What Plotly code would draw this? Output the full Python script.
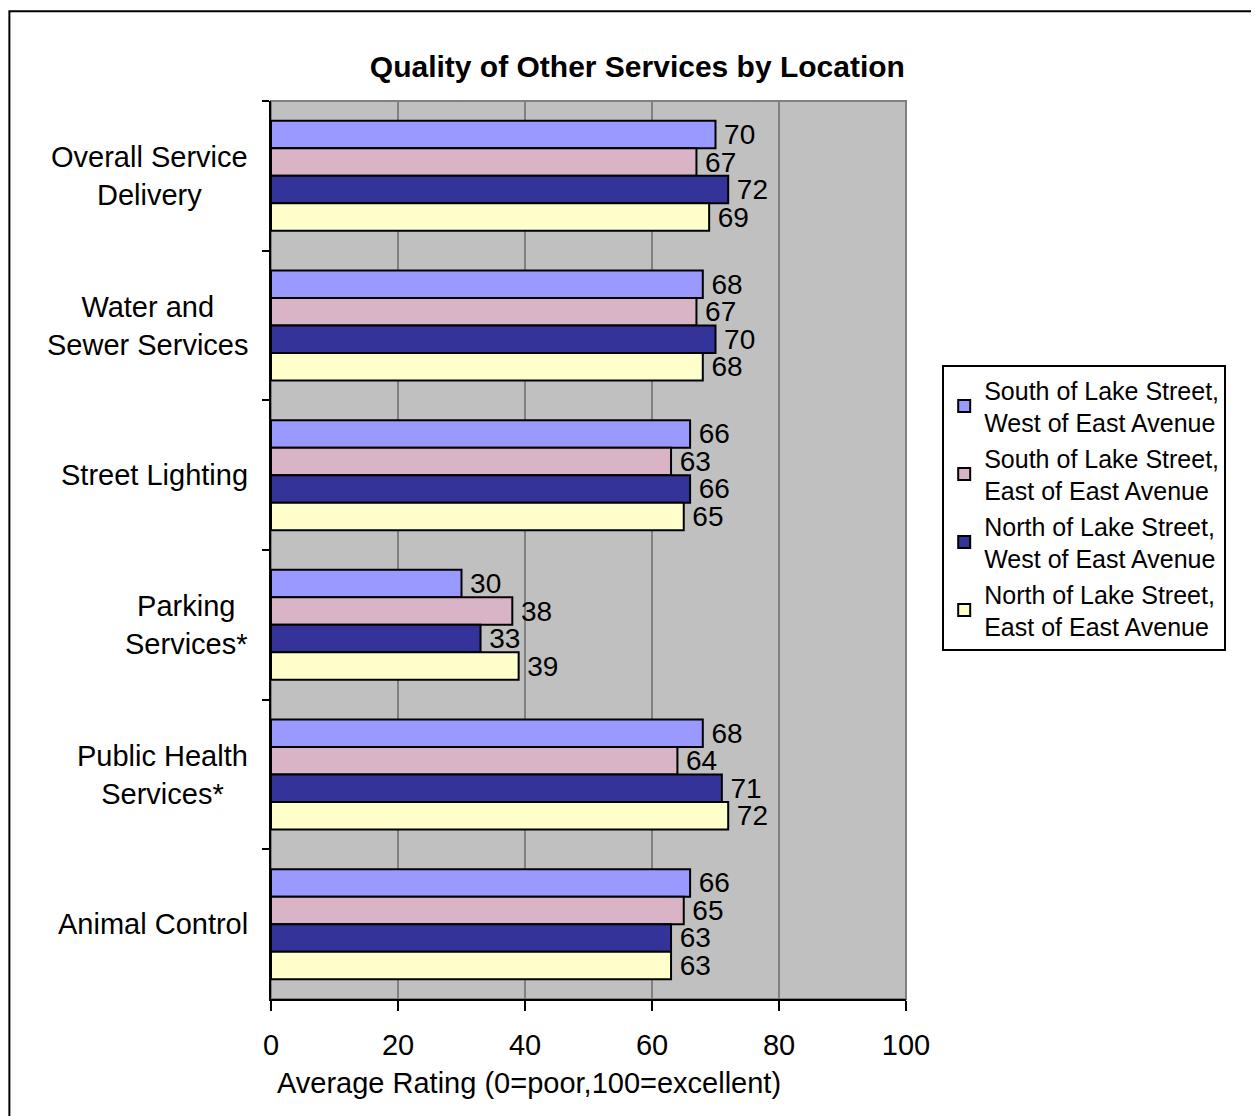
import plotly.graph_objects as go

# services (top to bottom) and location ratings
services = ["Overall Service<br>Delivery", "Water and<br>Sewer Services", "Street Lighting",
            "Parking<br>Services*", "Public Health<br>Services*", "Animal Control"]
locations = ["South of Lake Street,<br>West of East Avenue",
             "South of Lake Street,<br>East of East Avenue",
             "North of Lake Street,<br>West of East Avenue",
             "North of Lake Street,<br>East of East Avenue"]
south_west = [70, 68, 66, 30, 68, 66]
south_east = [67, 67, 63, 38, 64, 65]
north_west = [72, 70, 66, 33, 71, 63]
north_east = [69, 68, 65, 39, 72, 63]
colors = ["#9999FF", "#D9B3C6", "#333399", "#FFFFCC"]

FONT = "Arial, Liberation Sans, sans-serif"

fig = go.Figure()
for name, vals, col in zip(locations, [south_west, south_east, north_west, north_east], colors):
    fig.add_trace(go.Bar(
        y=services, x=vals, name=name, orientation="h",
        marker=dict(color=col, line=dict(color="black", width=2)),
        text=vals, texttemplate="\u2009%{x}", textposition="outside",
        constraintext="none", cliponaxis=False,
        textfont=dict(family=FONT, size=28, color="black"),
    ))

# category labels, centered lines, right-aligned block
for s in services:
    fig.add_annotation(x=-0.033, xref="paper", y=s, yref="y", text=s, showarrow=False,
                       xanchor="right", align="center",
                       font=dict(family=FONT, size=29, color="black"))

fig.add_annotation(x=0.407, xref="paper", y=-0.093, yref="paper",
                   text="Average Rating (0=poor,100=excellent)", showarrow=False,
                   xanchor="center", yanchor="middle",
                   font=dict(family=FONT, size=29, color="black"))

# outer frame and gray plot border
fig.add_shape(type="rect", xref="paper", yref="paper", x0=-0.412, x1=1.6, y0=-0.2, y1=1.1,
              line=dict(color="black", width=2), layer="below")
fig.add_shape(type="rect", xref="paper", yref="paper", x0=0, x1=1, y0=0, y1=1,
              line=dict(color="#808080", width=2), layer="below")

fig.update_layout(
    width=1259, height=1116,
    margin=dict(l=263, r=361, t=93, b=125),
    paper_bgcolor="white", plot_bgcolor="#C0C0C0",
    barmode="group", bargap=0.265, bargroupgap=0,
    title=dict(text="<b>Quality of Other Services by Location</b>", x=0.577, xref="paper",
               xanchor="center", y=1 - 58 / 1116, yanchor="middle",
               font=dict(family=FONT, size=30, color="black")),
    font=dict(family=FONT, color="black"),
    legend=dict(x=1.057, y=0.706, xanchor="left", yanchor="top",
                bordercolor="black", borderwidth=2, bgcolor="white",
                font=dict(family=FONT, size=25, color="black"),
                traceorder="normal", itemsizing="constant"),
    xaxis=dict(range=[0, 100], tickvals=[0, 20, 40, 60, 80, 100],
               showgrid=True, gridcolor="#808080", gridwidth=2,
               showline=True, linecolor="black", linewidth=2,
               ticks="outside", ticklen=10, tickwidth=2, tickcolor="black",
               ticklabelstandoff=9, zeroline=False,
               tickfont=dict(family=FONT, size=29, color="black")),
    yaxis=dict(autorange="reversed", showticklabels=False, showgrid=False,
               showline=True, linecolor="black", linewidth=2,
               ticks="outside", ticklen=7, tickwidth=2, tickcolor="black",
               tickson="boundaries"),
)

fig.write_html("out.html")
